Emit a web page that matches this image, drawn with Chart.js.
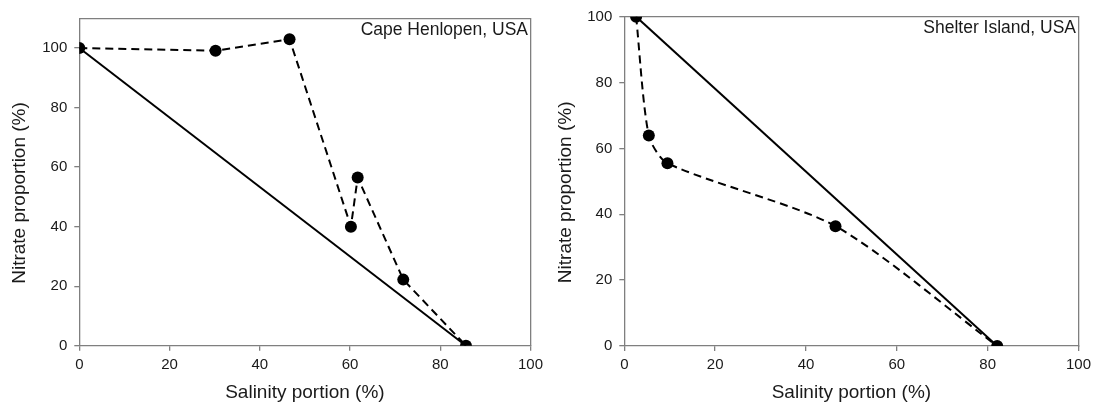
<!DOCTYPE html>
<html>
<head>
<meta charset="utf-8">
<script src="https://cdn.jsdelivr.net/npm/chart.js@4.4.1/dist/chart.umd.min.js"></script>
<style>
html,body{margin:0;padding:0;background:#fff;}
#wrap{position:relative;width:1096px;height:410px;overflow:hidden;}
.box{position:absolute;top:0;width:548px;height:410px;}
</style>
</head>
<body>
<div id="wrap">
  <div class="box" style="left:0"><canvas id="c1"></canvas></div>
  <div class="box" style="left:548px"><canvas id="c2"></canvas></div>
</div>
<script>
// ---- Data ----
const xTicks = [0, 20, 40, 60, 80, 100];
const yTicks = [0, 20, 40, 60, 80, 100];

const capeSalinity = [0, 30.2, 46.6, 60.2, 61.7, 71.8, 85.7];
const capeNitrate  = [100, 99.1, 103, 40, 56.5, 22.2, 0];
const capeMixSalinity = [0, 85.7];
const capeMixNitrate  = [100, 0];

const shelterSalinity = [2.6, 5.4, 9.5, 46.5, 82.1];
const shelterNitrate  = [100, 63.9, 55.5, 36.4, 0];
const shelterMixSalinity = [2.6, 82.1];
const shelterMixNitrate  = [100, 0];

const xTitle = 'Salinity portion (%)';
const yTitle = 'Nitrate proportion (%)';

// ---- Styling ----
const FONT = "'Liberation Sans', Arial, Helvetica, sans-serif";
const AXIS = '#7f7f7f';
const TEXT = '#1a1a1a';

function pts(xs, ys) { return xs.map((x, i) => ({x: x, y: ys[i]})); }

const annotate = {
  id: 'annotate',
  afterDraw(chart, args, opts) {
    const {ctx, chartArea} = chart;
    ctx.save();
    ctx.font = opts.size + 'px ' + FONT;
    ctx.fillStyle = TEXT;
    ctx.textAlign = 'right';
    ctx.textBaseline = 'alphabetic';
    ctx.fillText(opts.text, chartArea.right - 2.5, chartArea.top + opts.dy);
    ctx.restore();
  }
};

const shiftYTitle = {
  id: 'shiftYTitle',
  beforeDraw(chart, args, opts) {
    const s = chart.scales.y;
    if (s && s._shiftPatched !== opts.dy) {
      const proto = Object.getPrototypeOf(s);
      const dy = opts.dy;
      s.drawTitle = function () {
        const c = this.ctx;
        c.save();
        c.translate(0, dy);
        proto.drawTitle.call(this);
        c.restore();
      };
      s._shiftPatched = dy;
    }
  }
};

function makeChart(id, p) {
  const borderBox = {display: true, color: AXIS, width: 1.3};
  return new Chart(document.getElementById(id), {
    type: 'scatter',
    data: {
      datasets: [
        {
          data: pts(p.sx, p.sy),
          showLine: true,
          borderColor: '#000',
          backgroundColor: '#000',
          borderWidth: 2,
          borderDash: [8, 5],
          pointRadius: 6,
          pointHoverRadius: 6,
          pointBackgroundColor: '#000',
          pointBorderColor: '#000',
          pointBorderWidth: 0,
          tension: p.tension
        },
        {
          data: pts(p.mx, p.my),
          showLine: true,
          borderColor: '#000',
          borderWidth: 2,
          pointRadius: 0,
          pointHoverRadius: 0,
          tension: 0
        }
      ]
    },
    plugins: [annotate, shiftYTitle],
    options: {
      responsive: true,
      maintainAspectRatio: false,
      animation: false,
      events: [],
      layout: {padding: {left: 0, top: p.top, right: p.right, bottom: 0}},
      plugins: {
        legend: {display: false},
        tooltip: {enabled: false},
        annotate: {text: p.label, size: 17.5, dy: 16.7},
        shiftYTitle: {dy: 11}
      },
      scales: {
        x: {
          type: 'linear',
          position: 'bottom',
          min: 0, max: 100,
          afterBuildTicks(s) { s.ticks = xTicks.map(v => ({value: v})); },
          afterFit(s) { s.height = p.xh; },
          grid: {display: true, drawOnChartArea: false, drawTicks: true, tickLength: 5, color: AXIS, lineWidth: 1.3},
          border: borderBox,
          ticks: {color: TEXT, font: {family: FONT, size: 15}, padding: 5, maxRotation: 0},
          title: {display: true, text: xTitle, color: TEXT, font: {family: FONT, size: 19}, padding: {top: 0, bottom: 6}}
        },
        y: {
          type: 'linear',
          position: 'left',
          min: 0, max: p.ymax,
          afterBuildTicks(s) { s.ticks = yTicks.map(v => ({value: v})); },
          afterFit(s) { s.width = p.yw; },
          grid: {display: true, drawOnChartArea: false, drawTicks: true, tickLength: 5, color: AXIS, lineWidth: 1.3},
          border: borderBox,
          ticks: {color: TEXT, font: {family: FONT, size: 15}, padding: 7},
          title: {display: true, text: yTitle, color: TEXT, font: {family: FONT, size: 19}, padding: {top: p.ytp, bottom: 0}}
        },
        x2: {
          type: 'linear', position: 'top', min: 0, max: 100,
          afterFit(s) { s.height = 0; },
          grid: {display: false, drawTicks: false},
          ticks: {display: false},
          border: borderBox
        },
        y2: {
          type: 'linear', position: 'right', min: 0, max: p.ymax,
          afterFit(s) { s.width = 0; },
          grid: {display: false, drawTicks: false},
          ticks: {display: false},
          border: borderBox
        }
      }
    }
  });
}

makeChart('c1', {
  sx: capeSalinity, sy: capeNitrate, mx: capeMixSalinity, my: capeMixNitrate,
  tension: 0, ymax: 110, label: 'Cape Henlopen, USA',
  top: 18.3, right: 15.3, xh: 64.3, yw: 79.3, ytp: 8
});
makeChart('c2', {
  sx: shelterSalinity, sy: shelterNitrate, mx: shelterMixSalinity, my: shelterMixNitrate,
  tension: 0.25, ymax: 100, label: 'Shelter Island, USA',
  top: 16.7, right: 15, xh: 64, yw: 76.3, ytp: 6
});
</script>
</body>
</html>
